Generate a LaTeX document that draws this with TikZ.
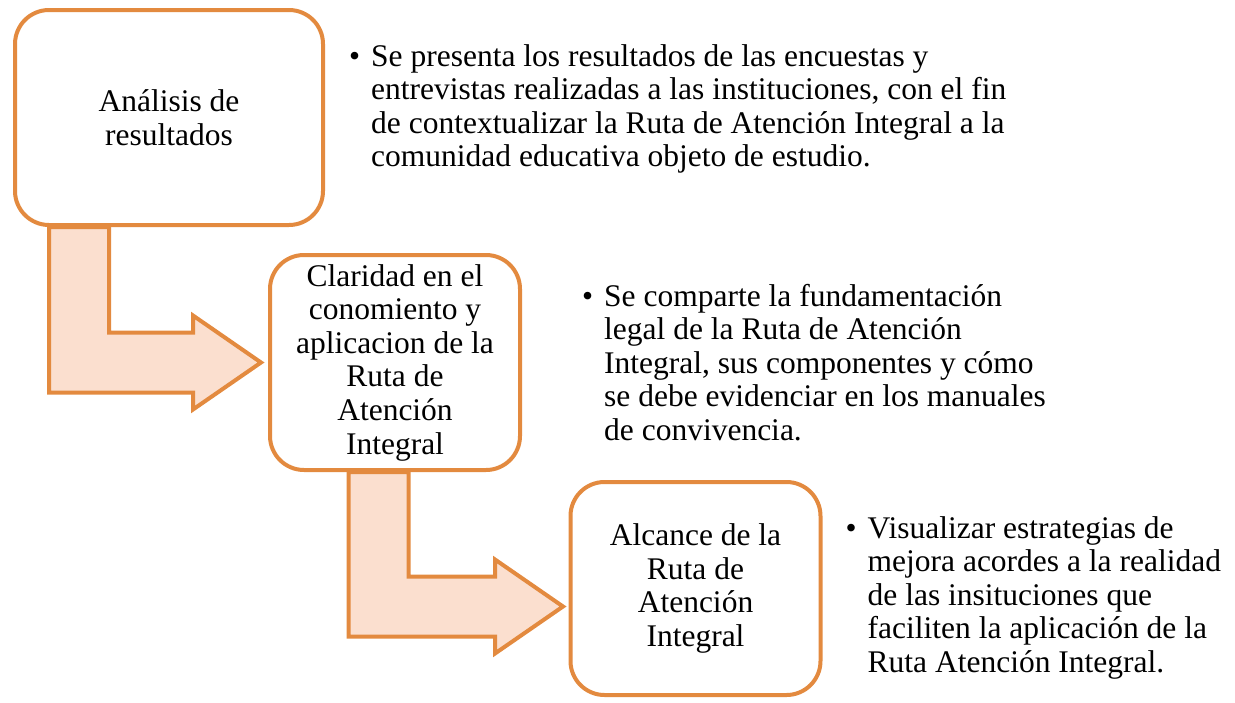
\documentclass[tikz,border=0pt]{standalone}
\usepackage{fontspec}
\setmainfont{Liberation Serif}
\usepackage{tikz}
\usetikzlibrary{positioning, calc, backgrounds}

\definecolor{boxline}{HTML}{E38A3F}
\definecolor{arrowfill}{HTML}{FBDFCF}

% bent block arrow: shaft top-left corner, tip
\newcommand{\bentarrow}[2]{%
  \draw[bendarrow] (#1) -- ++(60pt,0) |- ($(#2)+(-68pt,30pt)$) -- ++(0,17pt)
    -- (#2) -- ++(-68pt,-47pt) -- ++(0,17pt) -| (#1) -- cycle;}
\newcommand{\bulletitem}[1]{\makebox[22pt][l]{\textbullet}\begin{tabular}[t]{@{}l@{}}#1\end{tabular}}

\begin{document}
\begin{tikzpicture}[
    font=\fontsize{31.5pt}{33.6pt}\selectfont,
    stage/.style={draw=boxline, line width=4pt, rounded corners=34pt, fill=white, minimum width=250pt, minimum height=215pt, align=center, inner sep=4pt},
    desc/.style={anchor=base west, inner sep=0pt},
    bendarrow/.style={draw=boxline, line width=4pt, fill=arrowfill}
]
\useasboundingbox (0,0) rectangle (1235pt,-702pt);

% Stages
\node[stage, minimum width=308pt] (analisis) at (169pt,-117.5pt) {Análisis de\\resultados};
\node[stage] (claridad) at (395pt,-362.5pt) {Claridad en el\\conomiento y\\aplicacion de la\\Ruta de\\Atención\\Integral};
\node[stage, minimum height=213pt] (alcance) at (695.5pt,-588.5pt) {Alcance de la\\Ruta de\\Atención\\Integral};

% Descriptions
\node[desc] (desc1) at ($(analisis.north east)+(24pt,-58pt)$) {\bulletitem{Se presenta los resultados de las encuestas y\\entrevistas realizadas a las instituciones, con el fin\\de contextualizar la Ruta de Atención Integral a la\\comunidad educativa objeto de estudio.}};
\node[desc] (desc2) at ($(claridad.north east)+(60pt,-53pt)$) {\bulletitem{Se comparte la fundamentación\\legal de la Ruta de Atención\\Integral, sus componentes y cómo\\se debe evidenciar en los manuales\\de convivencia.}};
\node[desc] (desc3) at ($(alcance.north east)+(23pt,-58pt)$) {\bulletitem{Visualizar estrategias de\\mejora acordes a la realidad\\de las insituciones que\\faciliten la aplicación de la\\Ruta Atención Integral.}};

% Arrows
\coordinate (tip1) at ($(claridad.west)+(-7pt,0)$);
\coordinate (tip2) at ($(alcance.west)+(-5.5pt,-18pt)$);
\begin{scope}[on background layer]
\bentarrow{$(analisis.south west)+(36pt,0)$}{tip1}
\bentarrow{$(claridad.south west)+(80.5pt,0)$}{tip2}
\end{scope}
\end{tikzpicture}
\end{document}
